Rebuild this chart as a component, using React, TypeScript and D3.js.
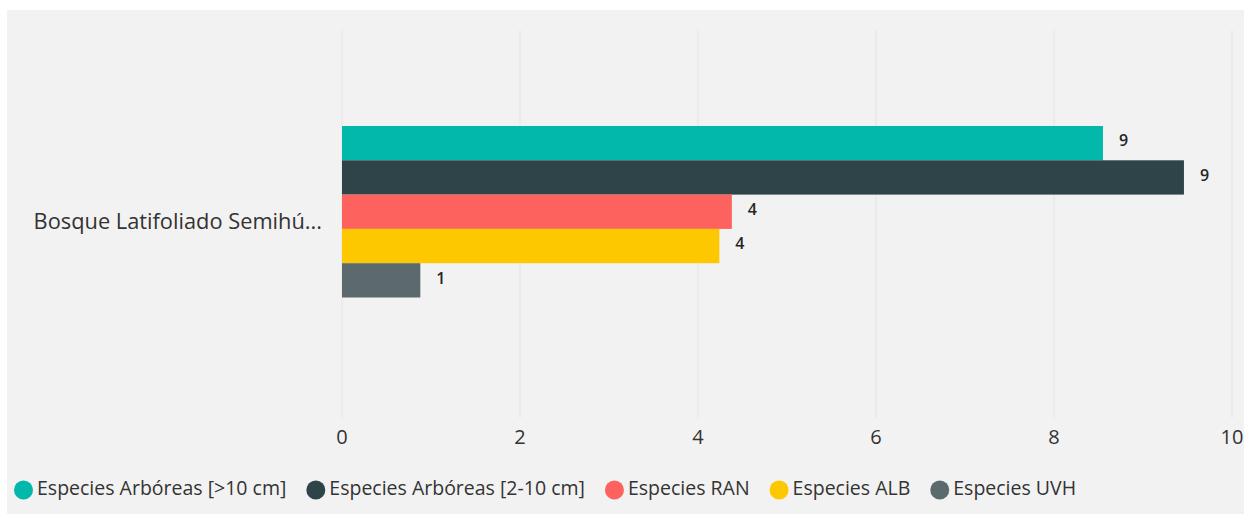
import { useEffect, useRef } from "react";
import * as d3 from "d3";

const category = "Bosque Latifoliado Semihú...";
const seriesNames = [
  "Especies Arbóreas [>10 cm]",
  "Especies Arbóreas [2-10 cm]",
  "Especies RAN",
  "Especies ALB",
  "Especies UVH",
];
const seriesValues = [8.55, 9.46, 4.38, 4.24, 0.88];
const seriesLabels = ["9", "9", "4", "4", "1"];
const seriesColors = ["#01b8aa", "#2e4448", "#fd625e", "#fec800", "#5c6a6d"];
const xTicks = [0, 2, 4, 6, 8, 10];

const W = 1244;
const H = 514;
const FONT = "'Open Sans', 'Noto Sans', sans-serif";

export default function App() {
  const svgRef = useRef<SVGSVGElement>(null);

  useEffect(() => {
    if (!svgRef.current) return;
    const svg = d3.select(svgRef.current);
    svg.selectAll("*").remove();

    // panel
    svg
      .append("rect")
      .attr("x", 7)
      .attr("y", 10)
      .attr("width", W - 7)
      .attr("height", H - 10)
      .attr("fill", "#f2f2f2");

    const x = d3.scaleLinear().domain([0, 10]).range([342, 1232]);
    const yCat = d3.scaleBand<string>().domain([category]).range([30, 418]);
    const ySer = d3
      .scaleBand<string>()
      .domain(seriesNames)
      .range([126, 297.5]);

    const g = svg.append("g");

    // gridlines
    g.selectAll("line.grid")
      .data(xTicks)
      .join("line")
      .attr("class", "grid")
      .attr("x1", (d) => x(d))
      .attr("x2", (d) => x(d))
      .attr("y1", yCat.range()[0])
      .attr("y2", yCat.range()[1])
      .attr("stroke", "#e4e4e4")
      .attr("stroke-width", 1);

    // tick labels
    g.selectAll("text.tick")
      .data(xTicks)
      .join("text")
      .attr("class", "tick")
      .attr("x", (d) => x(d))
      .attr("y", 444)
      .attr("text-anchor", "middle")
      .style("font-family", FONT)
      .style("font-size", "20px")
      .style("fill", "#333")
      .text((d) => d);

    // category label
    g.append("text")
      .attr("x", 322)
      .attr("y", (yCat(category) ?? 0) + yCat.bandwidth() / 2 - 1)
      .attr("text-anchor", "end")
      .attr("dominant-baseline", "middle")
      .style("font-family", FONT)
      .style("font-size", "21.8px")
      .style("fill", "#333")
      .text(category);

    // bars
    const data = seriesNames.map((name, i) => ({
      name,
      value: seriesValues[i],
      label: seriesLabels[i],
      color: seriesColors[i],
    }));

    g.selectAll("rect.bar")
      .data(data)
      .join("rect")
      .attr("class", "bar")
      .attr("x", x(0))
      .attr("y", (d) => ySer(d.name) ?? 0)
      .attr("width", (d) => x(d.value) - x(0))
      .attr("height", ySer.bandwidth())
      .attr("fill", (d) => d.color);

    g.selectAll("text.val")
      .data(data)
      .join("text")
      .attr("class", "val")
      .attr("x", (d) => x(d.value) + 16)
      .attr("y", (d) => (ySer(d.name) ?? 0) + ySer.bandwidth() / 2 - 1)
      .attr("dominant-baseline", "middle")
      .style("font-family", FONT)
      .style("font-size", "16px")
      .style("font-weight", "600")
      .style("fill", "#252525")
      .text((d) => d.label);

    // legend
    const legend = svg.append("g").attr("transform", "translate(14, 490)");
    let cx = 0;
    data.forEach((d) => {
      const item = legend.append("g").attr("transform", `translate(${cx},0)`);
      item.append("circle").attr("cx", 9.5).attr("cy", 0).attr("r", 9.5).attr("fill", d.color);
      const t = item
        .append("text")
        .attr("x", 23)
        .attr("y", 0)
        .attr("dominant-baseline", "middle")
        .style("font-family", FONT)
        .style("font-size", "19.5px")
        .style("fill", "#333")
        .text(d.name);
      const len = (t.node() as SVGTextElement).getComputedTextLength();
      cx += 23 + len + 20;
    });
  }, []);

  return (
    <svg
      ref={svgRef}
      width={W}
      height={H}
      style={{ position: "absolute", left: 0, top: 0, background: "#fff" }}
    />
  );
}
